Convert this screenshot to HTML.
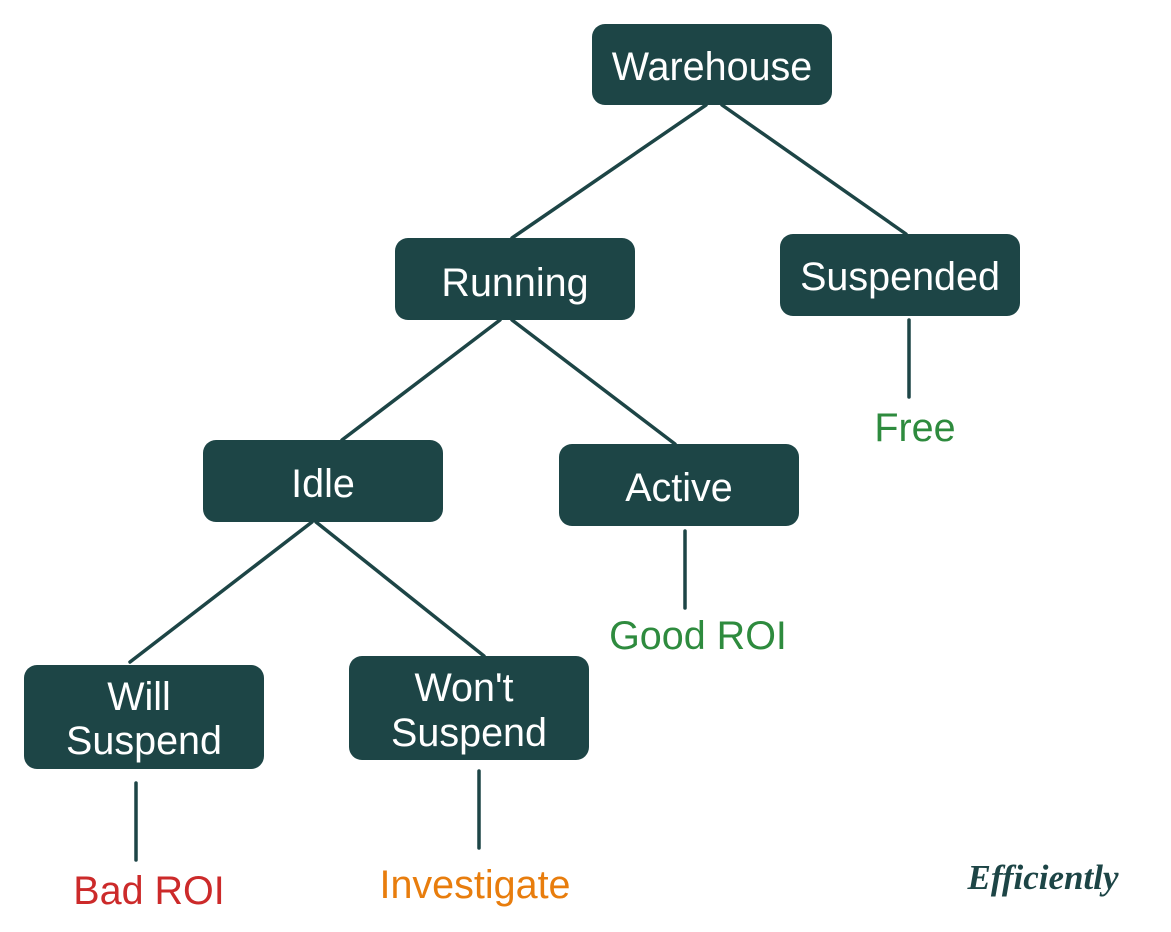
<!DOCTYPE html>
<html><head><style>
html,body{margin:0;padding:0;background:#fff;}
svg{display:block;}
text{font-family:"Liberation Sans",Arial,sans-serif;font-size:39.5px;text-anchor:middle;}
.w{fill:#fff;}
</style></head><body>
<svg width="1171" height="932" viewBox="0 0 1171 932" xmlns="http://www.w3.org/2000/svg">
<g stroke="#1d4546" stroke-width="3.5" stroke-linecap="round" fill="none">
<line x1="706" y1="105" x2="512" y2="238"/>
<line x1="722" y1="105" x2="906" y2="234"/>
<line x1="500" y1="320" x2="342" y2="440"/>
<line x1="512" y1="320" x2="675" y2="444"/>
<line x1="312" y1="522" x2="130" y2="662"/>
<line x1="316" y1="522" x2="484" y2="656"/>
<line x1="909" y1="320" x2="909" y2="397"/>
<line x1="685" y1="531" x2="685" y2="608"/>
<line x1="136" y1="783" x2="136" y2="860"/>
<line x1="479" y1="771" x2="479" y2="848"/>
</g>
<g fill="#1d4546">
<rect x="592" y="24" width="240" height="81" rx="13"/>
<rect x="395" y="238" width="240" height="82" rx="13"/>
<rect x="780" y="234" width="240" height="82" rx="13"/>
<rect x="203" y="440" width="240" height="82" rx="13"/>
<rect x="559" y="444" width="240" height="82" rx="13"/>
<rect x="24" y="665" width="240" height="104" rx="13"/>
<rect x="349" y="656" width="240" height="104" rx="13"/>
</g>
<text class="w" x="712" y="80">Warehouse</text>
<text class="w" x="515" y="296">Running</text>
<text class="w" x="900" y="290">Suspended</text>
<text class="w" x="323" y="497">Idle</text>
<text class="w" x="679" y="501">Active</text>
<text class="w" x="139" y="710">Will</text>
<text class="w" x="144" y="754">Suspend</text>
<text class="w" x="464" y="701">Won't</text>
<text class="w" x="469" y="746">Suspend</text>
<text x="915" y="441" fill="#2e8b3e">Free</text>
<text x="698" y="649" fill="#2e8b3e">Good ROI</text>
<text x="149" y="904" fill="#cc2a2a">Bad ROI</text>
<text x="475" y="898" fill="#e87d0d">Investigate</text>
<text x="1043" y="889" fill="#1d4546" style="font-family:'Liberation Serif',serif;font-style:italic;font-weight:bold;font-size:35px;">Efficiently</text>
</svg>
</body></html>
